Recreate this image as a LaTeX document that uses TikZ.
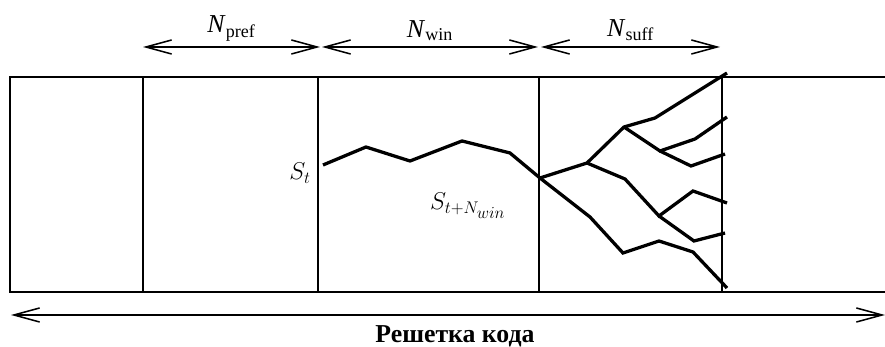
\documentclass[tikz,border=0pt]{standalone}
\usepackage{fontspec}
\setmainfont{Liberation Serif}
\usetikzlibrary{arrows.meta}
\tikzset{every node/.style={font=\fontsize{22}{26}\selectfont},
  cell/.style={line width=1.2pt},frame/.style={line width=1.6pt},
  bound/.style={line width=2pt},trail/.style={line width=2.8pt},
  span/.style={line width=1.3pt,{Straight Barb[length=22pt,width=12pt]}-{Straight Barb[length=22pt,width=12pt]}}}

\begin{document}
\begin{tikzpicture}[x=0.03cm,y=-0.03cm]
\useasboundingbox (0,0) rectangle (885,347);
% trellis frame
\draw[frame] (885,77)--(10,77)--(10,292)--(885,292);
\draw[cell] (143,77)--(143,292);
\draw[cell] (318,77)--(318,292);
\draw[bound] (539,77)--(539,292);
\draw[cell] (722,77)--(722,292);
% spans
\coordinate (p0) at (143,47);\coordinate (p1) at (320,47);
\coordinate (w0) at (322,47);\coordinate (w1) at (538,47);
\coordinate (s0) at (541,47);\coordinate (s1) at (720,47);
\draw[span] (p0)--(p1) node[midway,above=1pt] (npref) {\textit{N}\textsubscript{pref}};
\draw[span] (w0)--(w1) node[midway,above=1pt] (nwin) {\textit{N}\textsubscript{win}};
\draw[span] (s0)--(s1) node[midway,above=1pt] (nsuff) {\textit{N}\textsubscript{suff}};
% survivor path in the window
\draw[trail] (323,165)--(366,147)--(410,161)--(462,141)--(510,153)--(540,178);
% suffix tree
\draw[trail] (540,178)--(587,163)--(624,127)--(655,118)--(727,73);
\draw[trail] (624,127)--(660,151)--(695,139)--(727,117);
\draw[trail] (660,151)--(691,166)--(725,154);
\draw[trail] (587,163)--(625,179)--(659,216)--(693,191)--(727,203);
\draw[trail] (659,216)--(694,241)--(725,233);
\draw[trail] (540,178)--(590,217)--(623,253)--(659,241)--(693,252)--(727,288);
\node (st) at (300,173) {$S_t$};
\node (stn) at (468,206) {$S_{t+N_{\scriptstyle win}}$};
% whole trellis
\coordinate (l0) at (11,315);\coordinate (l1) at (885,315);
\draw[span] (l0)--(l1);
\node (title) at (455,336) {\bfseries Решетка кода};
\end{tikzpicture}
\end{document}
